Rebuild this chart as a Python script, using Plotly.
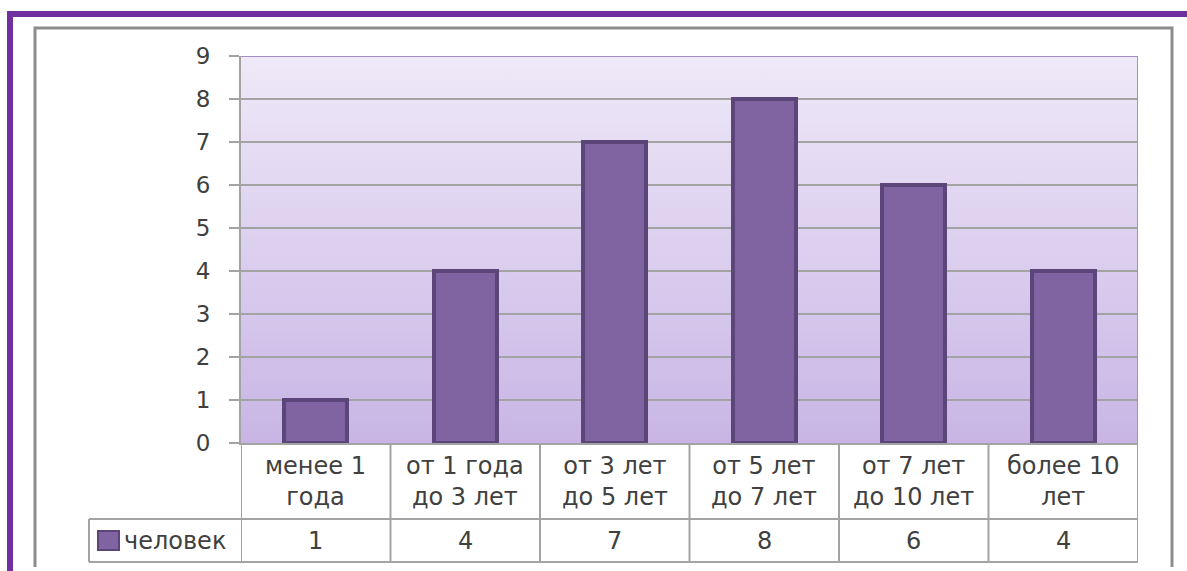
import plotly.graph_objects as go

categories = ["менее 1<br>года", "от 1 года<br>до 3 лет", "от 3 лет<br>до 5 лет",
              "от 5 лет<br>до 7 лет", "от 7 лет<br>до 10 лет", "более 10<br>лет"]
values = [1, 4, 7, 8, 6, 4]
series_name = "человек"
y_ticks = [0, 1, 2, 3, 4, 5, 6, 7, 8, 9]

W, H = 1187, 571
def px(x): return x / W
def py(y): return 1 - y / H

FONT = "DejaVu Sans"
FS = 24
FS_TICK = 23
TXT = "#404040"
GRID = "#A3A3A3"
n = len(categories)
xs = list(range(n))
XR = [-0.5, n - 0.5]
YR = [y_ticks[0], y_ticks[-1]]
XD = [px(241), px(1138)]
YD = [py(443), py(56)]

fig = go.Figure()

# gradient plot background (base subplot)
fig.add_trace(go.Scatter(
    x=[XR[0], XR[1], XR[1], XR[0], XR[0]],
    y=[YR[0], YR[0], YR[1], YR[1], YR[0]],
    fill="toself", mode="lines", line=dict(width=0),
    fillgradient=dict(type="vertical",
                      colorscale=[[0, "#C8B5E5"], [1, "#EFE9F8"]]),
    hoverinfo="skip", showlegend=False, xaxis="x", yaxis="y"))

# gridlines (base subplot, above gradient)
gx, gy = [], []
for t in y_ticks[1:-1]:
    gx += [XR[0], XR[1], None]
    gy += [t, t, None]
fig.add_trace(go.Scatter(x=gx, y=gy, mode="lines",
                         line=dict(color=GRID, width=2),
                         hoverinfo="skip", showlegend=False, xaxis="x", yaxis="y"))

# bars (overlay subplot, above everything)
fig.add_trace(go.Bar(
    x=xs, y=values, width=0.42, name=series_name,
    marker=dict(color="#8064A2", line=dict(color="#5C4579", width=4)),
    showlegend=False, xaxis="x2", yaxis="y2"))

shapes = []
# purple outer frame
shapes.append(dict(type="rect", xref="paper", yref="paper",
                   x0=px(7), x1=1, y0=0, y1=py(11),
                   fillcolor="#7030A0", line=dict(width=0), layer="below"))
shapes.append(dict(type="rect", xref="paper", yref="paper",
                   x0=px(13), x1=1, y0=0, y1=py(17),
                   fillcolor="white", line=dict(width=0), layer="below"))
# gray chart box
shapes.append(dict(type="path", xref="paper", yref="paper",
                   path=f"M {px(35)},{py(567)} L {px(35)},{py(28)} L {px(1172)},{py(28)} L {px(1172)},{py(567)}",
                   line=dict(color="#8C8C8C", width=3)))
# plot area top/right border
shapes.append(dict(type="line", xref="x2", yref="y2", x0=XR[0], x1=XR[1],
                   y0=YR[1], y1=YR[1], line=dict(color="#A48FCB", width=2)))
shapes.append(dict(type="line", xref="x2", yref="y2", x0=XR[1], x1=XR[1],
                   y0=YR[0], y1=YR[1], line=dict(color="#A48FCB", width=2)))

# data table lines
row_top, row_mid, row_bot = 443, 519, 562
leg_left = 89
for i in range(n + 1):
    shapes.append(dict(type="line", xref="x2", yref="paper", x0=i - 0.5, x1=i - 0.5,
                       y0=py(row_top), y1=py(row_bot), line=dict(color=GRID, width=2)))
for yy in (row_mid, row_bot):
    shapes.append(dict(type="line", xref="paper", yref="paper", x0=px(leg_left), x1=px(1138),
                       y0=py(yy), y1=py(yy), line=dict(color=GRID, width=2)))
shapes.append(dict(type="line", xref="paper", yref="paper", x0=px(leg_left), x1=px(leg_left),
                   y0=py(row_mid), y1=py(row_bot), line=dict(color=GRID, width=2)))
# legend key
shapes.append(dict(type="rect", xref="paper", yref="paper",
                   x0=px(98), x1=px(119), y0=py(550), y1=py(531),
                   fillcolor="#8064A2", line=dict(color="#5C4579", width=2)))

annotations = []
for i, c in enumerate(categories):
    annotations.append(dict(x=i, y=py(481), xref="x2", yref="paper", text=c,
                            showarrow=False, xanchor="center", yanchor="middle",
                            font=dict(family=FONT, size=FS, color=TXT)))
    annotations.append(dict(x=i, y=py(541), xref="x2", yref="paper", text=str(values[i]),
                            showarrow=False, xanchor="center", yanchor="middle",
                            font=dict(family=FONT, size=FS, color=TXT)))
annotations.append(dict(x=px(122), y=py(541), xref="paper", yref="paper", text=series_name,
                        showarrow=False, xanchor="left", yanchor="middle",
                        font=dict(family=FONT, size=FS, color=TXT)))

fig.update_layout(
    width=W, height=H,
    margin=dict(l=0, r=0, t=0, b=0, pad=0, autoexpand=False),
    paper_bgcolor="white", plot_bgcolor="rgba(0,0,0,0)",
    shapes=shapes, annotations=annotations,
    showlegend=False,
    xaxis=dict(domain=XD, range=XR, visible=False, fixedrange=True),
    yaxis=dict(domain=YD, range=YR, visible=False, fixedrange=True),
    xaxis2=dict(domain=XD, range=XR, overlaying="x", anchor="y2",
                showticklabels=False, showgrid=False, zeroline=False,
                showline=True, linecolor=GRID, linewidth=2, ticks="", fixedrange=True,
                automargin=False),
    yaxis2=dict(domain=YD, range=YR, overlaying="y", anchor="x2",
                tickvals=y_ticks, showgrid=False, zeroline=False,
                showline=True, linecolor=GRID, linewidth=2,
                ticks="outside", ticklen=10, tickcolor=GRID, tickwidth=2,
                ticklabelstandoff=14, automargin=False,
                tickfont=dict(family=FONT, size=FS_TICK, color=TXT), fixedrange=True),
    bargap=0,
)

post = ("document.body.style.margin='0';document.body.style.overflow='hidden';"
        "document.documentElement.style.overflow='hidden';")
fig.write_html("out.html", post_script=post, config={"displayModeBar": False})
